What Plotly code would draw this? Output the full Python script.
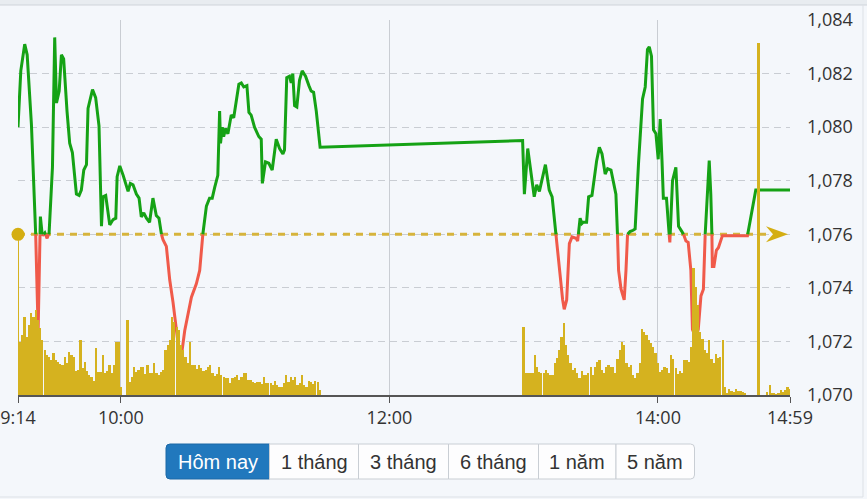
import plotly.graph_objects as go

# ---------------- data ----------------
SESSION_START = "9:14"
AFTERNOON_START = "13:00"
tick_labels = ["9:14", "10:00", "12:00", "14:00", "14:59"]
price_ticks = [1070, 1072, 1074, 1076, 1078, 1080, 1082, 1084]
ref_price = 1076  # reference (previous close)

# price path: minutes after session start, index value
price_minutes = [
    0, 1.25, 3.0, 4.1, 6.0, 7.9, 9.0, 10.0, 10.8, 11.0, 12.0, 13.0, 13.9,
    15.4, 16.4, 17.2, 18.4, 19.4, 20.4, 21.9, 23.1, 24.3, 26.1, 27.3, 28.3,
    29.4, 30.6, 31.3, 33.3, 34.7, 36.2, 37.3, 38.0, 39.2, 41.0, 42.5, 43.7,
    44.3, 45.5, 47.0, 49.2, 50.2, 51.4, 52.9, 54.1, 55.1, 56.2, 57.4, 58.8,
    60.3, 61.8, 63.0, 64.1, 64.8, 66.3, 67.8, 69.3, 70.8, 71.5, 72.2, 73.4,
    74.5, 77.5, 79.7, 81.2, 82.6, 84.2, 85.6, 86.8, 87.9, 89.3, 90.1, 90.5,
    91.3, 91.9, 92.8, 93.8, 95.3, 96.4, 98.7, 99.8, 100.9, 102.3, 103.2,
    104.2, 105.7, 107.6, 108.7, 109.2, 110.6, 112.1, 113.6, 115.4, 116.9,
    118.4, 119.1, 120.1, 121.3, 122.1, 122.8, 123.6, 124.6, 125.8, 127.0,
    128.5, 130.0, 131.0, 132.1, 133.3, 135.0,
    225.5, 226.3, 227.8, 230.7, 231.8, 233.0, 235.7, 237.4, 238.7, 240.4,
    241.9, 243.4, 244.1, 245.2, 246.4, 247.6, 249.4, 250.1, 251.2, 252.0,
    252.6, 254.1, 255.0, 256.5, 257.5, 258.6, 259.8, 261.0, 262.4, 263.5,
    265.0, 266.0, 267.2, 267.9, 268.4, 269.5, 270.9, 271.7, 272.4, 273.5,
    274.9, 275.8, 277.3, 279.1, 280.3, 281.3, 282.1, 283.1, 284.0, 285.1,
    286.1, 287.0, 287.8, 288.4, 289.8, 291.0, 291.3, 292.5, 294.0, 295.2,
    296.7, 297.4, 298.5, 299.5, 300.7, 301.4, 302.9, 304.0, 305.2, 306.3,
    307.1, 308.9, 309.6, 310.1, 310.3, 311.0, 312.1, 313.0, 314.8, 326.0,
    329.7, 345.0,
]
price_values = [
    1080.0, 1082.1, 1083.1, 1082.7, 1080.1, 1076.0, 1072.4, 1076.66, 1076.0,
    1075.95, 1076.05, 1075.85, 1076.05,
    1078.5, 1083.35, 1080.9, 1081.35, 1082.7, 1082.55, 1080.6, 1079.4,
    1079.05, 1077.5, 1077.45, 1077.65, 1078.4, 1078.6, 1080.7, 1081.4,
    1081.1, 1080.05, 1076.3, 1077.4, 1077.45, 1076.35, 1076.55, 1076.6,
    1078.15, 1078.55, 1078.2, 1077.6, 1077.9, 1077.85, 1077.5, 1077.35,
    1076.65, 1076.8, 1076.6, 1076.45, 1077.35, 1076.7, 1076.6, 1076.0,
    1075.8, 1075.55, 1074.3, 1073.45, 1072.55, 1071.95, 1070.95, 1071.75,
    1072.4, 1073.65, 1074.15, 1074.65, 1076.0, 1077.05, 1077.35, 1077.35,
    1077.75, 1078.2, 1080.6, 1079.4, 1080.0, 1079.65, 1079.95, 1079.75,
    1080.45, 1080.35, 1081.6, 1081.65, 1081.5, 1081.55, 1080.55, 1080.45,
    1080.0, 1079.65, 1079.55, 1077.9, 1078.7, 1078.65, 1078.4, 1079.55,
    1079.2, 1079.0, 1079.15, 1081.85, 1081.9, 1081.65, 1082.0, 1080.8,
    1080.75, 1081.75, 1082.1, 1081.9, 1081.55, 1081.35, 1081.3, 1080.6,
    1079.25,
    1079.5, 1077.5, 1079.2, 1077.4, 1077.85, 1077.6, 1078.6, 1077.65,
    1077.4, 1076.0, 1074.65, 1073.55, 1073.2, 1073.55, 1075.65, 1075.9,
    1075.85, 1075.75, 1076.6, 1076.4, 1076.45, 1076.45, 1077.4, 1077.45,
    1078.15, 1078.75, 1079.25, 1079.0, 1078.25, 1078.45, 1078.4, 1078.0,
    1077.5, 1076.0, 1074.65, 1073.95, 1073.55, 1074.65, 1076.0, 1076.1,
    1076.15, 1076.2, 1078.65, 1081.05, 1081.5, 1082.9, 1083.0, 1082.65,
    1079.9, 1079.75, 1078.8, 1080.3, 1078.75, 1077.35, 1077.35, 1076.0,
    1075.7, 1078.0, 1078.5, 1076.3, 1076.1, 1076.0, 1075.75, 1075.7,
    1074.65, 1072.45, 1072.15, 1072.45, 1073.7, 1073.95, 1076.0, 1078.75,
    1077.5, 1076.0, 1074.8, 1074.8, 1075.4, 1075.5, 1075.95, 1075.95,
    1077.65, 1077.65,
]

# per-minute volume, morning session from 9:14
vol_am = [
    155, 53, 60, 78, 58, 70, 82, 78, 85, 75, 67, 55, 45, 40, 38, 35, 42, 35,
    33, 31, 30, 38, 32, 43, 40, 38, 24, 25, 55, 27, 33, 24, 20, 18, 14, 47,
    23, 23, 40, 22, 24, 30, 22, 30, 53, 53, 8, 0, 0, 75, 13, 18, 28, 23, 25,
    28, 28, 21, 30, 22, 22, 32, 22, 20, 23, 25, 45, 50, 55, 78, 73, 68, 65,
    50, 45, 38, 32, 53, 30, 30, 26, 30, 27, 24, 25, 28, 30, 22, 19, 21, 28,
    20, 18, 17, 17, 12, 17, 18, 20, 15, 18, 22, 22, 15, 15, 13, 12, 13, 13,
    11, 18, 12, 12, 12, 10, 14, 10, 8, 8, 12, 20, 13, 18, 15, 18, 10, 12, 20,
    10, 8, 14, 13, 11, 14, 13, 5,
]
# per-minute volume, afternoon session from 13:00
vol_pm = [
    68, 22, 22, 22, 22, 40, 28, 23, 22, 22,
    25, 22, 20, 20, 32, 37, 45, 58, 72, 50,
    40, 32, 25, 27, 22, 17, 24, 20, 20, 22,
    28, 20, 28, 33, 35, 25, 22, 28, 30, 28,
    28, 22, 36, 45, 53, 50, 32, 28, 30, 20,
    17, 22, 32, 66, 63, 60, 55, 52, 48, 42,
    32, 23, 25, 28, 27, 22, 40, 36, 27, 21,
    24, 22, 35, 35, 33, 48, 127, 108, 90, 63,
    56, 45, 42, 55, 36, 32, 41, 37, 38, 55,
    8, 2, 6, 4, 3, 6, 4, 4, 3, 2,
    0, 0, 0, 0, 0, 352, 0, 0, 0, 3,
    10, 2, 2, 1, 2, 5, 3, 5, 8, 6,
]
range_buttons = ["Hôm nay", "1 tháng", "3 tháng", "6 tháng", "1 năm", "5 năm"]
active_button = "Hôm nay"

# ---------------- helpers ----------------
def to_min(s):
    h, m = s.split(":")
    return int(h) * 60 + int(m)

start = to_min(SESSION_START)
tickvals = [to_min(s) - start for s in tick_labels]
x_end = tickvals[-1]
pm_offset = to_min(AFTERNOON_START) - start

W, H = 867, 499
ML, MR, MT, MB = 18, 77, 20, 104
PW, PH = W - ML - MR, H - MT - MB
x_per_px = x_end / PW
y_per_px = (price_ticks[-1] - price_ticks[0]) / PH

def px(x):
    return (x - ML) / PW

def py(y):
    return (MT + PH - y) / PH

GREEN = "#15a215"
RED = "#f05a4a"
GOLD = "#d5b21f"
REFC = "#d6b43c"
GRID = "#c9cdd3"
BG = "#f4f7fb"

# split price path into above / below reference parts
xs, ys = [], []
for i, (t, p) in enumerate(zip(price_minutes, price_values)):
    if i > 0:
        t0, p0 = price_minutes[i - 1], price_values[i - 1]
        if (p0 - ref_price) * (p - ref_price) < 0:
            xs.append(t0 + (ref_price - p0) * (t - t0) / (p - p0))
            ys.append(ref_price)
    xs.append(t)
    ys.append(p)
green_y = [y if y >= ref_price else None for y in ys]
red_y = [y if y <= ref_price else None for y in ys]

vol_x = list(range(len(vol_am))) + [pm_offset + k for k in range(len(vol_pm))]
vol_y = vol_am + vol_pm

fig = go.Figure()
fig.add_trace(go.Bar(x=vol_x, y=vol_y, yaxis="y2", width=0.76,
                     marker=dict(color=GOLD, line=dict(width=0)),
                     hoverinfo="skip"))
fig.add_trace(go.Scatter(x=[0, x_end - 9 * x_per_px * 2.24], y=[ref_price, ref_price],
                         mode="lines",
                         line=dict(color=REFC, width=3, dash="7px,6px"),
                         hoverinfo="skip"))
fig.add_trace(go.Scatter(x=xs, y=red_y, mode="lines", connectgaps=False,
                         line=dict(color=RED, width=3), hoverinfo="skip"))
fig.add_trace(go.Scatter(x=xs, y=green_y, mode="lines", connectgaps=False,
                         line=dict(color=GREEN, width=3), hoverinfo="skip"))
fig.add_trace(go.Scatter(x=[0], y=[ref_price], mode="markers", cliponaxis=False,
                         marker=dict(color="#d4ae12", size=13), hoverinfo="skip"))

shapes = []
# arrow head at the end of the reference line (pixel-sized, data-anchored)
tip_x = x_end - 2 * x_per_px
back_x = tip_x - 22 * x_per_px
notch_x = tip_x - 15 * x_per_px
hh = 8 * y_per_px
shapes.append(dict(type="path", xref="x", yref="y",
                   path=(f"M{tip_x},{ref_price} L{back_x},{ref_price + hh} "
                         f"L{notch_x},{ref_price} L{back_x},{ref_price - hh} Z"),
                   fillcolor="#d4ae12", line=dict(width=0)))
# container borders
shapes.append(dict(type="rect", xref="paper", yref="paper", x0=px(-5), x1=px(W + 5),
                   y0=py(5), y1=py(-5), fillcolor="#e8ecf0",
                   line=dict(color="#cfd4da", width=1), layer="below"))
shapes.append(dict(type="line", xref="paper", yref="paper", x0=px(863), x1=px(863),
                   y0=py(5), y1=py(497), line=dict(color="#dde1e6", width=1)))
shapes.append(dict(type="line", xref="paper", yref="paper", x0=px(0), x1=px(863),
                   y0=py(497), y1=py(497), line=dict(color="#dde1e6", width=1)))

# range buttons
bx = [166, 269.5, 358.5, 448.5, 538.5, 616, 694.5]
by0, by1 = 444, 479
annotations = []

def rpath(x0, x1, y0, y1, rl, rr):
    pts = []
    pts.append(f"M{px(x0 + rl)},{py(y0)}")
    pts.append(f"L{px(x1 - rr)},{py(y0)}")
    pts.append(f"Q{px(x1)},{py(y0)} {px(x1)},{py(y0 + rr)}")
    pts.append(f"L{px(x1)},{py(y1 - rr)}")
    pts.append(f"Q{px(x1)},{py(y1)} {px(x1 - rr)},{py(y1)}")
    pts.append(f"L{px(x0 + rl)},{py(y1)}")
    pts.append(f"Q{px(x0)},{py(y1)} {px(x0)},{py(y1 - rl)}")
    pts.append(f"L{px(x0)},{py(y0 + rl)}")
    pts.append(f"Q{px(x0)},{py(y0)} {px(x0 + rl)},{py(y0)}")
    return " ".join(pts) + " Z"

n = len(range_buttons)
for i, label in enumerate(range_buttons):
    x0, x1 = bx[i], bx[i + 1]
    active = label == active_button
    rl = 4 if i == 0 else 0
    rr = 4 if i == n - 1 else 0
    shapes.append(dict(type="path", xref="paper", yref="paper",
                       path=rpath(x0, x1, by0, by1, rl, rr),
                       fillcolor="#2178bd" if active else "#fdfdfe",
                       line=dict(color="#1c68a6" if active else "#c9ced4", width=1)))
    annotations.append(dict(xref="paper", yref="paper", x=px((x0 + x1) / 2),
                            y=py((by0 + by1) / 2), text=label, showarrow=False,
                            xanchor="center", yanchor="middle",
                            font=dict(family="Liberation Sans, Arial", size=20,
                                      color="#ffffff" if active else "#333333")))

fig.update_layout(
    width=W, height=H,
    margin=dict(l=ML, r=MR, t=MT, b=MB, autoexpand=False),
    paper_bgcolor=BG, plot_bgcolor=BG,
    showlegend=False, hovermode=False, bargap=0,
    shapes=shapes, annotations=annotations,
    xaxis=dict(range=[0, x_end], tickvals=tickvals, ticktext=tick_labels,
               showgrid=True, gridcolor=GRID, gridwidth=1, zeroline=False,
               showline=True, linecolor="#555555", linewidth=1.5,
               ticks="outside", ticklen=6, tickcolor="#555555",
               tickfont=dict(family="Open Sans", size=18, color="#333333"),
               fixedrange=True),
    yaxis=dict(range=[price_ticks[0], price_ticks[-1]], tickvals=price_ticks,
               tickformat=",d", side="right", showgrid=True, gridcolor=GRID,
               griddash="7px,5px", gridwidth=1, zeroline=False, showline=False,
               ticks="", ticklabelstandoff=16,
               tickfont=dict(family="Open Sans", size=18, color="#333333"),
               fixedrange=True),
    yaxis2=dict(range=[0, PH], overlaying="y", visible=False, fixedrange=True),
)

fig.write_html("out.html", config={"displayModeBar": False},
               post_script="document.body.style.margin='0';document.body.style.overflow='hidden';")
